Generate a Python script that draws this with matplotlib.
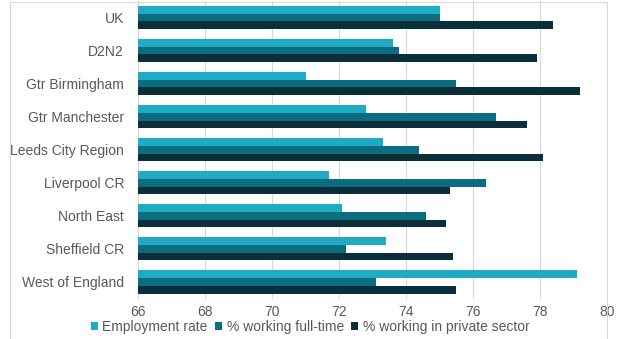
import matplotlib
matplotlib.use("Agg")
import matplotlib.pyplot as plt
from matplotlib.patches import Rectangle
import numpy as np

plt.rcParams['font.family'] = ['Liberation Sans', 'DejaVu Sans']

categories = ["UK", "D2N2", "Gtr Birmingham", "Gtr Manchester", "Leeds City Region",
              "Liverpool CR", "North East", "Sheffield CR", "West of England"]
employment_rate = [75.0, 73.6, 71.0, 72.8, 73.3, 71.7, 72.1, 73.4, 79.1]
full_time = [75.0, 73.8, 75.5, 76.7, 74.4, 76.4, 74.6, 72.2, 73.1]
private_sector = [78.4, 77.9, 79.2, 77.6, 78.1, 75.3, 75.2, 75.4, 75.5]
series_names = ["Employment rate", "% working full-time", "% working in private sector"]
xticks = [66, 68, 70, 72, 74, 76, 78, 80]

colors = ["#1eabc3", "#0b6d7f", "#0a2f3b"]
W, H = 617, 339
fig = plt.figure(figsize=(W/100, H/100), dpi=100)
ax = fig.add_axes([138/W, 1 - 298.5/H, (607-138)/W, (298.5-1)/H])

n = len(categories)
y = np.arange(n)
h = 0.233
base = 66
for i, (vals, name) in enumerate(zip([employment_rate, full_time, private_sector], series_names)):
    ax.barh(y + (i - 1) * h, np.array(vals) - base, left=base, height=h,
            color=colors[i], label=name, zorder=3)

ax.set_xlim(66, 80)
ax.set_ylim(n - 0.5, -0.5)
ax.set_xticks(xticks)
ax.set_xticklabels([str(t) for t in xticks])
ax.set_yticks(y)
ax.set_yticklabels(categories)
ax.tick_params(axis='both', length=0, labelsize=10, colors="#595959", labelcolor="#595959")
ax.tick_params(axis='y', pad=10)
ax.tick_params(axis='x', pad=5)
ax.grid(axis='x', color="#d9d9d9", linewidth=0.8, zorder=0)
for s in ['top', 'right', 'bottom']:
    ax.spines[s].set_visible(False)
ax.spines['left'].set_color("#d9d9d9")
ax.spines['left'].set_linewidth(0.8)

leg = fig.legend(loc='center', bbox_to_anchor=(310/W, 1 - 327/H), ncol=3, frameon=False,
                 fontsize=10, handlelength=0.55, handleheight=0.55, handletextpad=0.3,
                 columnspacing=0.5, labelcolor="#595959")

# chart outer frame
fig.patches.append(Rectangle((10/W, -0.05), (607-10)/W, 1 - 2/H + 0.05,
                             transform=fig.transFigure, fill=False,
                             edgecolor="#d9d9d9", linewidth=0.8, zorder=0))

fig.savefig("out.png", dpi=100)
